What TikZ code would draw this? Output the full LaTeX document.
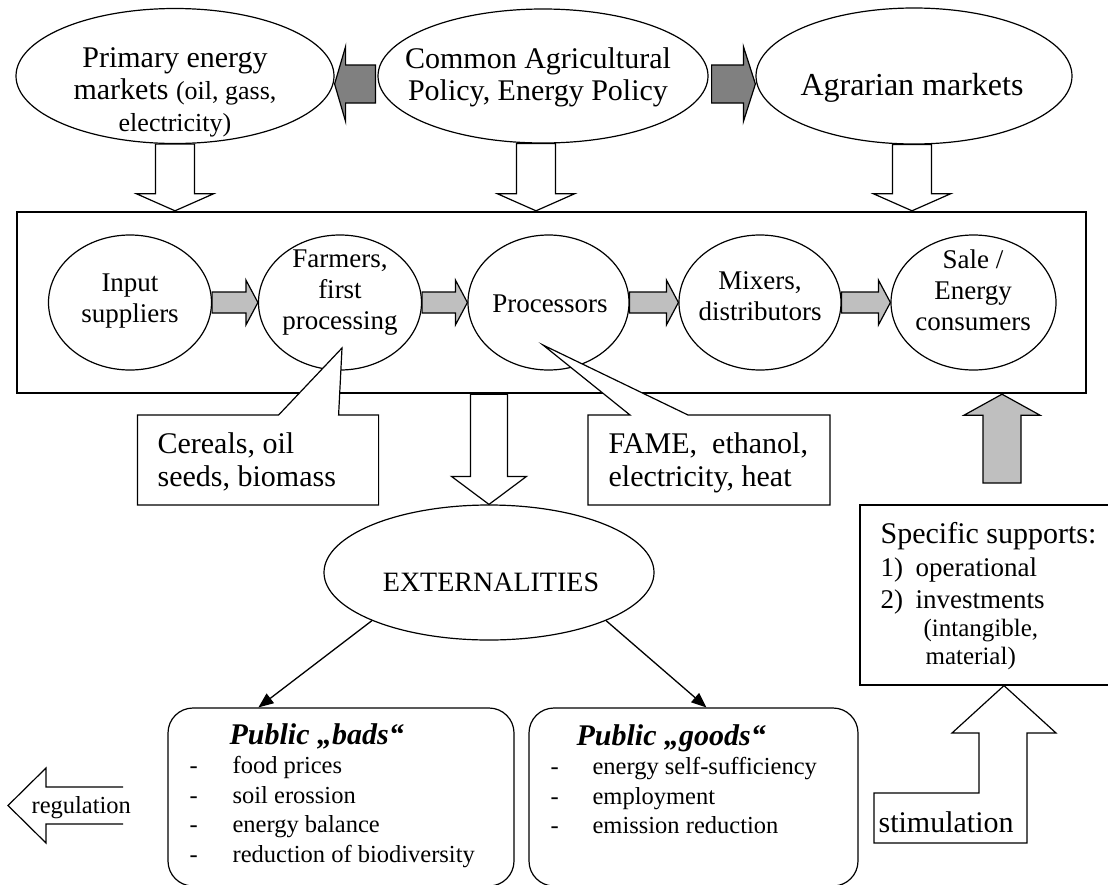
\documentclass[tikz,border=0pt]{standalone}
\usepackage{fontspec}
\setmainfont{Liberation Serif}
\usetikzlibrary{shapes.geometric,arrows.meta,calc}

\newcommand{\fbig}{\fontsize{30}{32}\selectfont}
\newcommand{\fmid}{\fontsize{27}{31}\selectfont}
\newcommand{\fsml}{\fontsize{26}{30}\selectfont}
\newcommand{\flist}{\fontsize{24.5}{29.5}\selectfont}
\newcommand{\dashitem}[1]{\makebox[#1][l]{-}}

% block arrow: style, from, to, half body, half head, head length
\newcommand{\fatarrow}[6]{%
  \coordinate (fa-s) at #2;
  \coordinate (fa-e) at #3;
  \coordinate (fa-h) at ($(fa-e)!#6!(fa-s)$);
  \draw[#1] ($(fa-s)!#4!90:(fa-e)$) -- ($(fa-h)!#4!90:(fa-e)$) -- ($(fa-h)!#5!90:(fa-e)$)
    -- (fa-e) -- ($(fa-h)!#5!-90:(fa-e)$) -- ($(fa-h)!#4!-90:(fa-e)$)
    -- ($(fa-s)!#4!-90:(fa-e)$) -- cycle;
}

\begin{document}
\begin{tikzpicture}[x=1pt, y=-1pt, line width=1.2pt,
  market/.style={ellipse, draw, fill=white, inner sep=0pt},
  stage/.style={ellipse, draw, fill=white, inner sep=0pt, minimum height=135pt},
  bigtxt/.style={font=\fbig, align=center, inner sep=0pt},
  midtxt/.style={font=\fmid, align=center, inner sep=0pt},
  listtxt/.style={font=\flist, align=left, inner sep=0pt},
  darkarr/.style={draw, fill=black!50},
  greyarr/.style={draw, fill=black!25},
  whitearr/.style={draw, fill=white},
  callout/.style={draw, fill=white},
  pubbox/.style={rectangle, draw, rounded corners=25pt, minimum height=178pt, inner sep=0pt},
  flowline/.style={-{Triangle[length=15pt,width=12pt]}, line width=1.3pt},
]
\useasboundingbox (0,0) rectangle (1108,884);
\clip (0,0) rectangle (1108,884);

% frame of the chain
\node[draw, line width=2.4pt, minimum width=1069pt, minimum height=181pt, inner sep=0pt] (chainbox) at (551.5,302.5) {};

% markets and policy
\node[market, minimum width=318pt, minimum height=135pt] (primary) at (175,76) {};
\node[market, minimum width=330pt, minimum height=134pt] (policy) at (543,76) {};
\node[market, minimum width=316pt, minimum height=136pt] (agrarian) at (914,76) {};
\node[bigtxt] (primary-t) at (175,92.5) {Primary energy\\ markets {\fsml (oil, gass,}\\ {\fsml electricity)}};
\node[bigtxt] (policy-t) at (538,77) {Common Agricultural\\ Policy, Energy Policy};
\node[bigtxt, font=\fontsize{32}{34}\selectfont, anchor=base] (agrarian-t) at (912,95) {Agrarian markets};

\fatarrow{darkarr}{([xshift=-2pt,yshift=-8pt]policy.west)}{([yshift=-8pt]primary.east)}{19pt}{37.5pt}{11pt}
\fatarrow{darkarr}{([xshift=3pt,yshift=-8pt]policy.east)}{([yshift=-8pt]agrarian.west)}{19pt}{37.5pt}{12pt}

\coordinate (policyfoot) at ([xshift=-7pt]policy.south);
\coordinate (agrarianfoot) at ([xshift=-2pt]agrarian.south);
\fatarrow{whitearr}{(primary.south)}{(primary.south |- chainbox.north)}{19.5pt}{38.5pt}{17pt}
\fatarrow{whitearr}{(policyfoot)}{(policyfoot |- chainbox.north)}{19.5pt}{38.5pt}{17pt}
\fatarrow{whitearr}{(agrarianfoot)}{(agrarianfoot |- chainbox.north)}{19.5pt}{38.5pt}{17pt}

% the chain
\node[stage, minimum width=163pt] (input) at (130,302.5) {};
\node[stage, minimum width=163pt] (farmers) at (340,302.5) {};
\node[stage, minimum width=161pt] (processors) at (548.5,302.5) {};
\node[stage, minimum width=162pt] (mixers) at (760,302.5) {};
\node[stage, minimum width=165pt] (sale) at (973.5,302.5) {};
\node[midtxt] (input-t) at (130,301) {Input\\ suppliers};
\node[midtxt] (farmers-t) at (340,293) {Farmers,\\ first\\ processing};
\node[midtxt, anchor=base] (processors-t) at (550,312) {Processors};
\node[midtxt] (mixers-t) at (760,296.5) {Mixers,\\ distributors};
\node[midtxt] (sale-t) at (973,290) {Sale /\\ Energy\\ consumers};

\fatarrow{greyarr}{(input.east)}{(farmers.west)}{10.5pt}{22.5pt}{12pt}
\fatarrow{greyarr}{(farmers.east)}{(processors.west)}{10.5pt}{22.5pt}{12pt}
\fatarrow{greyarr}{(processors.east)}{(mixers.west)}{10.5pt}{22.5pt}{12pt}
\fatarrow{greyarr}{(mixers.east)}{(sale.west)}{10.5pt}{22.5pt}{12pt}

% products
\draw[callout] (137.5,505) -- (137.5,415) -- (278.6,415) -- (342,348) -- (338.6,415) -- (378.6,415) -- (378.6,505) -- cycle;
\node[bigtxt, font=\fontsize{30}{33}\selectfont, align=left, anchor=north west] (cereals-t) at (157,432.5) {Cereals, oil\\ seeds, biomass};
\draw[callout] (588,505) -- (588,415) -- (630,415) -- (543,345) -- (688,415) -- (830,415) -- (830,505) -- cycle;
\node[bigtxt, font=\fontsize{30}{33}\selectfont, align=left, anchor=north west] (fame-t) at (608,432.5) {FAME,\ \ ethanol,\\ electricity, heat};

% externalities
\node[market, minimum width=330pt, minimum height=135pt] (ext) at (489,572.5) {};
\node[font=\fontsize{28}{30}\selectfont, anchor=base, inner sep=0pt] (ext-t) at (491,591) {EXTERNALITIES};
\coordinate (extfoot) at (ext.north |- chainbox.south);
\fatarrow{whitearr}{(extfoot)}{(ext.north)}{18.5pt}{37.5pt}{28pt}

\node[pubbox, minimum width=346pt] (bads) at (341,797) {};
\node[pubbox, minimum width=329pt] (goods) at (693.5,797) {};
\node[listtxt, anchor=north west] (bads-t) at (189,723) {{\bfseries\itshape\fontsize{30}{32}\selectfont\hspace*{40pt}Public „bads“}\\
  \dashitem{43pt}food prices\\
  \dashitem{43pt}soil erossion\\
  \dashitem{43pt}energy balance\\
  \dashitem{43pt}reduction of biodiversity};
\node[listtxt, anchor=north west] (goods-t) at (550,724) {{\bfseries\itshape\fontsize{30}{32}\selectfont\hspace*{26pt}Public „goods“}\\
  \dashitem{42pt}energy self-sufficiency\\
  \dashitem{42pt}employment\\
  \dashitem{42pt}emission reduction};

\draw[flowline] (ext.south west) -- ([xshift=91pt]bads.north west);
\draw[flowline] (ext.south east) -- ([xshift=178pt]goods.north west);

% regulation
\draw (123,787) -- (46,787) -- (46,768) -- (8,805.5) -- (46,843) -- (46,824) -- (123,824);
\node[listtxt, anchor=base west] (regulation) at (31,813) {regulation};

% supports
\node[draw, rectangle, minimum width=252pt, minimum height=180pt, inner sep=0pt] (support) at (986,595) {};
\node[listtxt, font=\fontsize{25}{28}\selectfont, anchor=north west] (support-t) at (880,521.5) {{\fbig Specific supports:}\\[5pt]
  {\fmid 1)\hspace*{12.5pt}operational}\\[4pt]
  {\fmid 2)\hspace*{12.5pt}investments}\\
  \hspace*{43pt}(intangible,\\
  \hspace*{45pt}material)};
\coordinate (upfoot) at (1002,483);
\fatarrow{greyarr}{(upfoot)}{(upfoot |- chainbox.south)}{19pt}{38pt}{21pt}

% stimulation
\draw[whitearr] ([xshift=18pt]support.south) -- (1056,733) -- (1027,733) -- (1027,843) -- (874,843)
  -- (874,793) -- (979,793) -- (979,733) -- (952,733) -- cycle;
\node[font=\fbig, anchor=base west, inner sep=0pt] (stimulation) at (878,832) {stimulation};

\end{tikzpicture}
\end{document}
